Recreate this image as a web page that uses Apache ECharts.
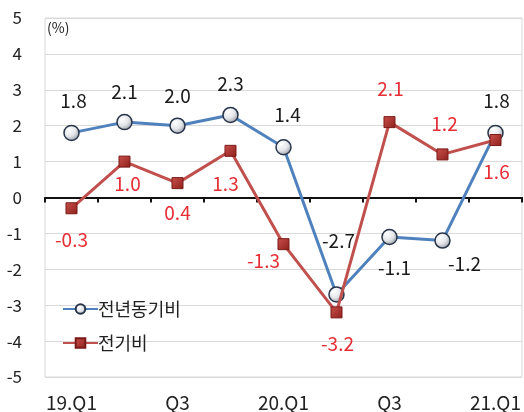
<!DOCTYPE html>
<html>
<head>
<meta charset="utf-8">
<script src="https://cdn.jsdelivr.net/npm/echarts@6/dist/echarts.min.js"></script>
<style>
  html, body { margin: 0; padding: 0; background: #fff; }
  #chart { width: 524px; height: 412px; }
</style>
</head>
<body>
<div id="chart"></div>
<script>
// Quarterly growth rates, %
const quarters = ['19.Q1', 'Q2', 'Q3', 'Q4', '20.Q1', 'Q2', 'Q3', 'Q4', '21.Q1'];
const yoyName = '전년동기비';
const qoqName = '전기비';
const yoyValues = [1.8, 2.1, 2.0, 2.3, 1.4, -2.7, -1.1, -1.2, 1.8];
const qoqValues = [-0.3, 1.0, 0.4, 1.3, -1.3, -3.2, 2.1, 1.2, 1.6];
const yTicks = { min: -5, max: 5, step: 1 };

// Label placement (pixel offsets from each point), kept apart from the values
const yoyLabelOffsets = [[2, -32], [0, -30], [0, -30], [0, -31], [4, -32], [2, -54], [5, 31], [22, 23], [1, -32]];
const qoqLabelOffsets = [[0, 32], [3, 22], [0, 30], [-5, 33], [-20, 17], [1, 31], [1, -33], [2, -31], [1, 32]];

const FONT = '"Noto Sans CJK KR", "Noto Sans", sans-serif';

function withLabels(values, offsets, color) {
  return values.map((v, i) => ({
    value: v,
    label: { offset: offsets[i], color: color }
  }));
}

const chart = echarts.init(document.getElementById('chart'), null, { renderer: 'canvas' });

const circleFill = new echarts.graphic.RadialGradient(0.35, 0.3, 0.8, [
  { offset: 0, color: '#ffffff' },
  { offset: 0.5, color: '#e4e6ea' },
  { offset: 1, color: '#8a8f99' }
]);
const squareFill = new echarts.graphic.LinearGradient(0, 0, 1, 1, [
  { offset: 0, color: '#c9514c' },
  { offset: 1, color: '#8e1f1c' }
]);

chart.setOption({
  animation: false,
  backgroundColor: '#ffffff',
  textStyle: { fontFamily: FONT },
  grid: {
    left: 45, right: 2, top: 18, bottom: 34,
    show: true, borderColor: '#d9d9d9', borderWidth: 1
  },
  graphic: [{
    type: 'text', left: 47, top: 21,
    style: { text: '(%)', fontSize: 14, fill: '#222', fontFamily: FONT }
  }],
  legend: {
    orient: 'vertical', left: 57, top: 295, itemGap: 16,
    itemWidth: 35, itemHeight: 12,
    textStyle: { fontSize: 18, color: '#222', fontFamily: FONT, padding: [0, 0, 0, -5] },
    data: [yoyName, qoqName]
  },
  xAxis: [{
    type: 'category', data: quarters, boundaryGap: true,
    axisLine: { onZero: true, lineStyle: { color: '#111', width: 2 } },
    axisTick: { show: true, length: 5, inside: false, lineStyle: { color: '#111', width: 2 } },
    axisLabel: { show: false },
    splitLine: { show: false }
  }, {
    type: 'category', data: quarters, boundaryGap: true, position: 'bottom',
    axisLine: { show: false, onZero: false },
    axisTick: { show: false },
    axisLabel: { interval: 1, fontSize: 19, color: '#222', margin: 16, fontFamily: FONT }
  }],
  yAxis: {
    type: 'value', min: yTicks.min, max: yTicks.max, interval: yTicks.step,
    axisLine: { show: false },
    axisTick: { show: false },
    axisLabel: { fontSize: 17, color: '#222', margin: 23, fontFamily: FONT },
    splitLine: { lineStyle: { color: '#d9d9d9', width: 1 } }
  },
  series: [{
    name: yoyName, type: 'line',
    data: withLabels(yoyValues, yoyLabelOffsets, '#1a1a1a'),
    lineStyle: { color: '#4f81bd', width: 3 },
    itemStyle: { color: circleFill, borderColor: '#27344a', borderWidth: 1.5 },
    symbol: 'circle', symbolSize: 15,
    label: { show: true, position: 'inside', fontSize: 19, fontFamily: FONT,
      formatter: p => p.value.toFixed(1) },
    z: 2
  }, {
    name: qoqName, type: 'line',
    data: withLabels(qoqValues, qoqLabelOffsets, '#e62e36'),
    lineStyle: { color: '#c0504d', width: 3 },
    itemStyle: { color: squareFill, borderColor: '#7a1a18', borderWidth: 1 },
    symbol: 'rect', symbolSize: 11,
    label: { show: true, position: 'inside', fontSize: 19, fontFamily: FONT,
      formatter: p => p.value.toFixed(1) },
    z: 3
  }]
});
</script>
</body>
</html>
